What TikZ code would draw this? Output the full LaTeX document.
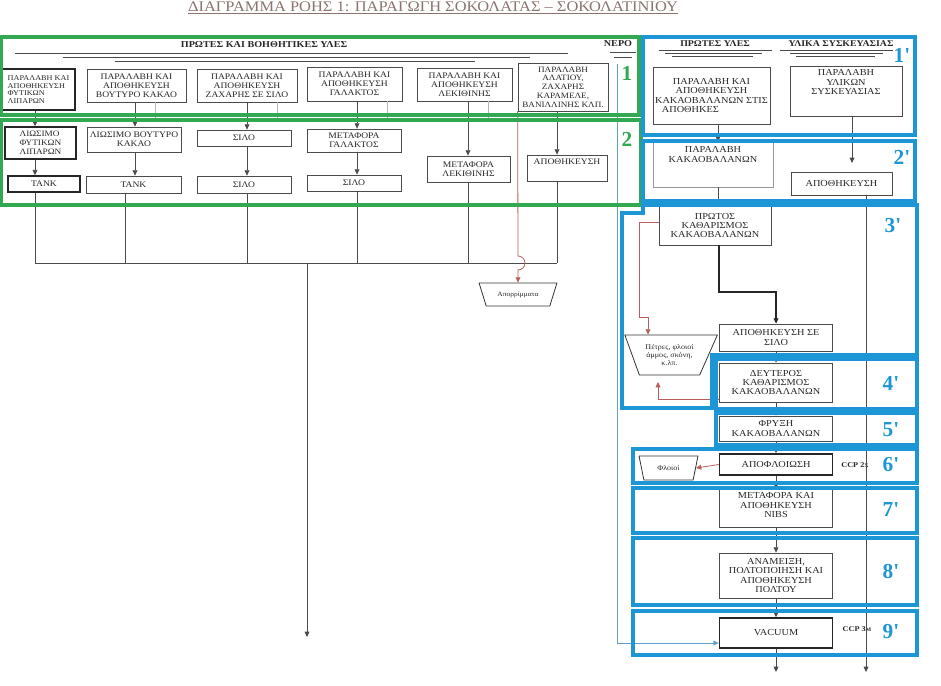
\documentclass[tikz,border=0pt]{standalone}
\usepackage{fontspec}
\setmainfont{Liberation Serif}
\newfontfamily\scanfont{Liberation Serif}[FakeStretch=1.12]
\newfontfamily\numfont{Liberation Serif}[Ligatures=TeXOff]
\usetikzlibrary{arrows.meta,shapes.geometric,calc}
\definecolor{gr}{RGB}{50,168,82}
\definecolor{bl}{RGB}{28,150,212}
\definecolor{rl}{RGB}{185,95,90}
\definecolor{wl}{RGB}{95,160,205}
\definecolor{ln}{RGB}{75,75,75}
\definecolor{tx}{RGB}{40,40,40}
\definecolor{lg}{RGB}{150,150,150}
\definecolor{fa}{RGB}{180,185,175}
\definecolor{ttl}{RGB}{140,115,110}
\newcommand{\bx}[7][lbox]{\node[#1,minimum width={(#5-#3)*0.75pt},minimum height={(#6-#4)*0.75pt}] (#2) at ({(#3+#5)/2},{(#4+#6)/2}) {#7};}
\begin{document}
\begin{tikzpicture}[x=0.75pt,y=-0.75pt,
 lbox/.style={draw=ln,line width=0.55pt,text=tx,align=center,inner sep=0.5pt,font=\scanfont\fontsize{6.4}{6.6}\selectfont},
 rbox/.style={lbox,font=\scanfont\fontsize{6.9}{7.1}\selectfont},
 heavy/.style={line width=1.1pt,draw=black!85},
 ltxt/.style={text=tx,align=center,inner sep=0pt,font=\scanfont\fontsize{6.4}{6.6}\selectfont},
 rtxt/.style={text=tx,align=center,inner sep=0pt,font=\scanfont\fontsize{6.9}{7.1}\selectfont},
 hdr/.style={text=tx,inner sep=0pt,font=\scanfont\bfseries\fontsize{6.6}{6.6}\selectfont},
 arr/.style={draw=ln,line width=0.55pt,-{Triangle[length=4pt,width=3.6pt]}},
 plain/.style={draw=ln,line width=0.55pt},
 faint/.style={draw=fa,line width=0.5pt},
 redl/.style={draw=rl,line width=0.6pt,-{Triangle[length=4pt,width=3.6pt]}},
 gbox/.style={draw=gr,line width=2.6pt},
 bbox/.style={draw=bl,line width=3pt},
 gnum/.style={text=gr,font=\numfont\bfseries\fontsize{16}{16}\selectfont,inner sep=0pt},
 bnum/.style={text=bl,font=\numfont\bfseries\fontsize{16}{16}\selectfont,inner sep=0pt},
 trap/.style={trapezium,trapezium stretches=true,shape border rotate=180,draw=black!80,line width=0.6pt,text=tx,align=center,inner sep=0pt}
]
\fill[white] (0,0) rectangle (941,685);
\useasboundingbox (0,0) rectangle (941,685);

% title
\node[anchor=base,text=ttl,inner sep=0pt,font=\scanfont\fontsize{11}{11}\selectfont] (title) at (433,11.5) {\underline{ΔΙΑΓΡΑΜΜΑ ΡΟΗΣ 1: ΠΑΡΑΓΩΓΗ ΣΟΚΟΛΑΤΑΣ – ΣΟΚΟΛΑΤΙΝΙΟΥ}};

% left headers
\node[hdr,font=\scanfont\bfseries\fontsize{6.8}{6.8}\selectfont] (hl) at (264,45) {ΠΡΩΤΕΣ ΚΑΙ ΒΟΗΘΗΤΙΚΕΣ ΥΛΕΣ};
\node[hdr,font=\scanfont\bfseries\fontsize{6.8}{6.8}\selectfont] (hw) at (618,44) {ΝΕΡΟ};
\draw[plain] (15,53) -- (568,53);
\draw[plain] (63,57) -- (530,57);
\draw[plain] (115,61) -- (475,61);
\draw[plain] (610,52) -- (636,52);
\draw[plain] (614,57) -- (632,57);

% right headers
\node[hdr] (hr1) at (715,44) {ΠΡΩΤΕΣ ΥΛΕΣ};
\node[hdr] (hr2) at (841,44) {ΥΛΙΚΑ ΣΥΣΚΕΥΑΣΙΑΣ};
\draw[plain] (659,50) -- (772,50);
\draw[plain] (665,53) -- (762,53);
\draw[plain] (672,56) -- (753,56);
\draw[plain] (780,50) -- (893,50);
\draw[plain] (790,53) -- (883,53);
\draw[plain] (796,56) -- (875,56);

% left row 1
\bx[lbox,heavy,align=left,font=\scanfont\fontsize{5.5}{5.7}\selectfont]{b1}{2}{69}{75}{110}{ΠΑΡΑΛΑΒΗ ΚΑΙ\\ΑΠΟΘΗΚΕΥΣΗ\\ΦΥΤΙΚΩΝ\\ΛΙΠΑΡΩΝ}
\bx{b2}{87}{69}{186}{102}{ΠΑΡΑΛΑΒΗ ΚΑΙ\\ΑΠΟΘΗΚΕΥΣΗ\\ΒΟΥΤΥΡΟ ΚΑΚΑΟ}
\bx{b3}{197}{69}{297}{102}{ΠΑΡΑΛΑΒΗ ΚΑΙ\\ΑΠΟΘΗΚΕΥΣΗ\\ΖΑΧΑΡΗΣ ΣΕ ΣΙΛΟ}
\bx{b4}{307}{67}{402}{101}{ΠΑΡΑΛΑΒΗ ΚΑΙ\\ΑΠΟΘΗΚΕΥΣΗ\\ΓΑΛΑΚΤΟΣ}
\bx{b5}{417}{68}{512}{101}{ΠΑΡΑΛΑΒΗ ΚΑΙ\\ΑΠΟΘΗΚΕΥΣΗ\\ΛΕΚΙΘΙΝΗΣ}
\bx[lbox,font=\scanfont\fontsize{6.1}{6.6}\selectfont]{b6}{518}{63}{608}{111}{ΠΑΡΑΛΑΒΗ\\ΑΛΑΤΙΟΥ,\\ΖΑΧΑΡΗΣ\\ΚΑΡΑΜΕΛΕ,\\ΒΑΝΙΛΛΙΝΗΣ ΚΛΠ.}

% left row 2
\bx[lbox,heavy,align=left,font=\scanfont\fontsize{6.2}{6.8}\selectfont]{c1}{5}{127}{76}{159}{ΛΙΩΣΙΜΟ\\ΦΥΤΙΚΩΝ\\ΛΙΠΑΡΩΝ}
\bx{c2}{87}{127}{181}{152}{ΛΙΩΣΙΜΟ ΒΟΥΤΥΡΟ\\ΚΑΚΑΟ}
\bx{c3}{197}{130}{291}{146}{ΣΙΛΟ}
\bx{c4}{307}{129}{401}{152}{ΜΕΤΑΦΟΡΑ\\ΓΑΛΑΚΤΟΣ}
\bx{c5}{427}{156}{510}{182}{ΜΕΤΑΦΟΡΑ\\ΛΕΚΙΘΙΝΗΣ}
\bx{c6}{527}{155}{607}{181}{}
\node[ltxt,anchor=north] (c6t) at ([yshift=-3pt]c6.north) {ΑΠΟΘΗΚΕΥΣΗ};

% left row 3
\bx[lbox,heavy]{d1}{8}{176}{80}{192}{ΤΑΝΚ}
\bx{d2}{86}{176}{181}{193}{ΤΑΝΚ}
\bx{d3}{197}{176}{291}{193}{ΣΙΛΟ}
\bx{d4}{307}{175}{401}{191}{ΣΙΛΟ}

% faint water lines
\coordinate (g2) at (155,119);
\coordinate (g3) at (277,119);
\coordinate (g4) at (387,119);
\coordinate (g5) at (488,119);
\draw[faint] (55,119) -- (617,119);
\draw[faint] (b2.south -| g2) -- (g2);
\draw[faint] (b3.south -| g3) -- (g3);
\draw[faint] (b4.south -| g4) -- (g4);
\draw[faint] (b5.south -| g5) -- (g5);

% left arrows
\coordinate (k1) at (35,0);
\coordinate (k2) at (135,0);
\coordinate (k3) at (247,0);
\coordinate (k4) at (357,0);
\coordinate (k5) at (468,0);
\coordinate (k6) at (557,0);
\draw[arr] (b1.south -| k1) -- (c1.north -| k1);
\draw[arr] (c1.south -| k1) -- (d1.north -| k1);
\draw[arr] (b2.south -| k2) -- (c2.north -| k2);
\draw[arr] (c2.south -| k2) -- (d2.north -| k2);
\draw[arr] (b3.south -| k3) -- (c3.north -| k3);
\draw[arr] (c3.south -| k3) -- (d3.north -| k3);
\draw[arr] (b4.south -| k4) -- (c4.north -| k4);
\draw[arr] (c4.south -| k4) -- (d4.north -| k4);
\draw[arr] (b5.south -| k5) -- (c5.north -| k5);
\draw[arr] (b6.south -| k6) -- (c6.north -| k6);

% collector
\coordinate (h1) at (35,263);
\coordinate (h2) at (125,263);
\coordinate (h3) at (247,263);
\coordinate (h4) at (357,263);
\coordinate (h5) at (468,263);
\coordinate (h6) at (557,263);
\coordinate (hm) at (307,263);
\coordinate (endl) at (307,637);
\draw[plain] (d1.south -| h1) -- (h1) -- (h6);
\draw[plain] (d2.south -| h2) -- (h2);
\draw[plain] (d3.south -| h3) -- (h3);
\draw[plain] (d4.south -| h4) -- (h4);
\draw[plain] (c5.south -| h5) -- (h5);
\draw[plain] (c6.south -| h6) -- (h6);
\draw[arr] (hm) -- (endl);

% waste
\node[trap,trapezium left angle=53,trapezium right angle=53,minimum width=58.5pt,minimum height=17.25pt,font=\scanfont\fontsize{5}{5}\selectfont] (apo) at (518,294.5) {Απορρίμματα};
\draw[redl] (b6.south west) -- (518,256) arc[start angle=90,end angle=-90,radius=5.25pt] -- (apo.north);

% right column
\bx[rbox]{r1}{653}{67}{770}{124}{ΠΑΡΑΛΑΒΗ ΚΑΙ\\ΑΠΟΘΗΚΕΥΣΗ\\ΚΑΚΑΟΒΑΛΑΝΩΝ ΣΤΙΣ\\ΑΠΟΘΗΚΕΣ\hspace*{4.6em}}
\bx[rbox]{r2}{790}{66}{902}{116}{}
\node[rtxt,anchor=north] (r2t) at ([yshift=-3pt]r2.north) {ΠΑΡΑΛΑΒΗ\\ΥΛΙΚΩΝ\\ΣΥΣΚΕΥΑΣΙΑΣ};
\bx[rbox,draw=lg]{r3}{653}{142}{773}{187}{}
\node[rtxt,anchor=north] (r3t) at ([yshift=-3.5pt]r3.north) {ΠΑΡΑΛΑΒΗ\\ΚΑΚΑΟΒΑΛΑΝΩΝ};
\bx[rbox]{r4}{791}{172}{892}{195}{ΑΠΟΘΗΚΕΥΣΗ}
\bx[rbox]{p1}{659}{206}{771}{245}{ΠΡΩΤΟΣ\\ΚΑΘΑΡΙΣΜΟΣ\\ΚΑΚΑΟΒΑΛΑΝΩΝ}
\bx[rbox]{s1}{719.5}{324}{832.5}{351}{ΑΠΟΘΗΚΕΥΣΗ ΣΕ\\ΣΙΛΟ}
\bx[rbox]{p2}{719.5}{363}{832.5}{402}{ΔΕΥΤΕΡΟΣ\\ΚΑΘΑΡΙΣΜΟΣ\\ΚΑΚΑΟΒΑΛΑΝΩΝ}
\bx[rbox]{f1}{719.5}{416}{832.5}{441}{ΦΡΥΞΗ\\ΚΑΚΑΟΒΑΛΑΝΩΝ}
\bx[rbox,heavy]{a1}{719.5}{454}{832.5}{475}{ΑΠΟΦΛΟΙΩΣΗ}
\bx[rbox]{m1}{719.5}{489}{832.5}{527}{}
\node[rtxt,anchor=north] (m1t) at ([yshift=-3pt]m1.north) {ΜΕΤΑΦΟΡΑ ΚΑΙ\\ΑΠΟΘΗΚΕΥΣΗ\\NIBS};
\bx[rbox]{n1}{719.5}{553}{832.5}{598}{ΑΝΑΜΕΙΞΗ,\\ΠΟΛΤΟΠΟΙΗΣΗ ΚΑΙ\\ΑΠΟΘΗΚΕΥΣΗ\\ΠΟΛΤΟΥ}
\bx[rbox,heavy]{v1}{719.5}{618}{832.5}{648}{VACUUM}

\node[text=tx,inner sep=0pt,font=\scanfont\bfseries\fontsize{5.5}{5.5}\selectfont] (ccp1) at (855,465) {CCP 2{\fontsize{4}{4}\selectfont Χ}};
\node[text=tx,inner sep=0pt,font=\scanfont\bfseries\fontsize{5.5}{5.5}\selectfont] (ccp2) at (857,629) {CCP 3{\fontsize{4}{4}\selectfont Μ}};

\node[trap,trapezium left angle=57,trapezium right angle=62,minimum width=69.75pt,minimum height=30pt,font=\scanfont\fontsize{5.4}{6.2}\selectfont] (ptr) at (669.5,355) {Πέτρες, φλοιοί\\άμμος, σκόνη,\\κ.λπ.};
\node[trap,trapezium left angle=67,trapezium right angle=67,minimum width=44.25pt,minimum height=18pt,font=\scanfont\fontsize{5.4}{5.4}\selectfont] (flo) at (668.5,468) {Φλοιοί};

% right connectors
\coordinate (xr) at (718,0);
\coordinate (xs) at (852,0);
\coordinate (xt) at (866,0);
\coordinate (endr) at (866,672);
\coordinate (endv) at (776,672);
\draw[arr] (r1.south -| xr) -- (r3.north -| xr);
\draw[arr] (r3.south -| xr) -- (p1.north -| xr);
\draw[arr,shorten >=6.5pt] (r2.south -| xs) -- (r4.north -| xs);
\draw[plain,-{Triangle[length=4pt,width=3.6pt]}] (r4.south -| xt) -- (endr);
\coordinate (kb) at (719,292);
\draw[arr,line width=0.9pt,draw=black!85] (p1.south -| kb) -- (kb) -| (s1.north);
\draw[arr] (s1.south) -- (p2.north);
\draw[arr] (p2.south) -- (f1.north);
\draw[arr] (f1.south) -- (a1.north);
\draw[arr] (a1.south) -- (m1.north);
\draw[arr] (m1.south) -- (n1.north);
\draw[arr] (n1.south) -- (v1.north);
\draw[arr] (v1.south) -- (endv);

\coordinate (rc) at (639,317);
\coordinate (rj) at (648,317);
\coordinate (rk) at (658,382);
\draw[redl] ([yshift=2.5pt]p1.west) -| (rc) -- (rj) -- (rj |- ptr.north);
\draw[redl] ([yshift=-12.4pt]p2.west) -| (rk);
\draw[redl] (a1.west) -- (flo.east);

% water line to vacuum
\coordinate (wtop) at (617,64);
\draw[draw=wl,line width=0.6pt,-{Triangle[length=4pt,width=3.6pt]}] (wtop) |- ([yshift=-7.5pt]v1.west);

% green overlay boxes
\draw[gbox] (1.5,37) rectangle (639,115);
\draw[gbox] (1.5,120) rectangle (641,205);
\node[gnum] (n1g) at (627,73) {1};
\node[gnum] (n2g) at (627,139) {2};

% blue overlay boxes
\draw[bbox] (643,37) rectangle (915,135);
\draw[bbox] (643,141) rectangle (915,201);
\draw[bbox] (622,213) -- (643,213) -- (643,205) -- (917,205) -- (917,355) -- (712,355) -- (712,408) -- (622,408) -- cycle;
\draw[bbox] (716,359) rectangle (917,409);
\draw[bbox] (716,413) rectangle (917,445);
\draw[bbox] (633,449) rectangle (917,483);
\draw[bbox] (633,488) rectangle (917,533);
\draw[bbox] (633,538) rectangle (917,605);
\draw[bbox] (633,611) rectangle (917,655);
\node[bnum] (l1) at (902,55) {1'};
\node[bnum] (l2) at (902,157) {2'};
\node[bnum] (l3) at (893,226) {3'};
\node[bnum] (l4) at (891,383) {4'};
\node[bnum] (l5) at (891,430) {5'};
\node[bnum] (l6) at (891,465) {6'};
\node[bnum] (l7) at (891,510) {7'};
\node[bnum] (l8) at (891,572) {8'};
\node[bnum] (l9) at (891,632) {9'};
\end{tikzpicture}
\end{document}
